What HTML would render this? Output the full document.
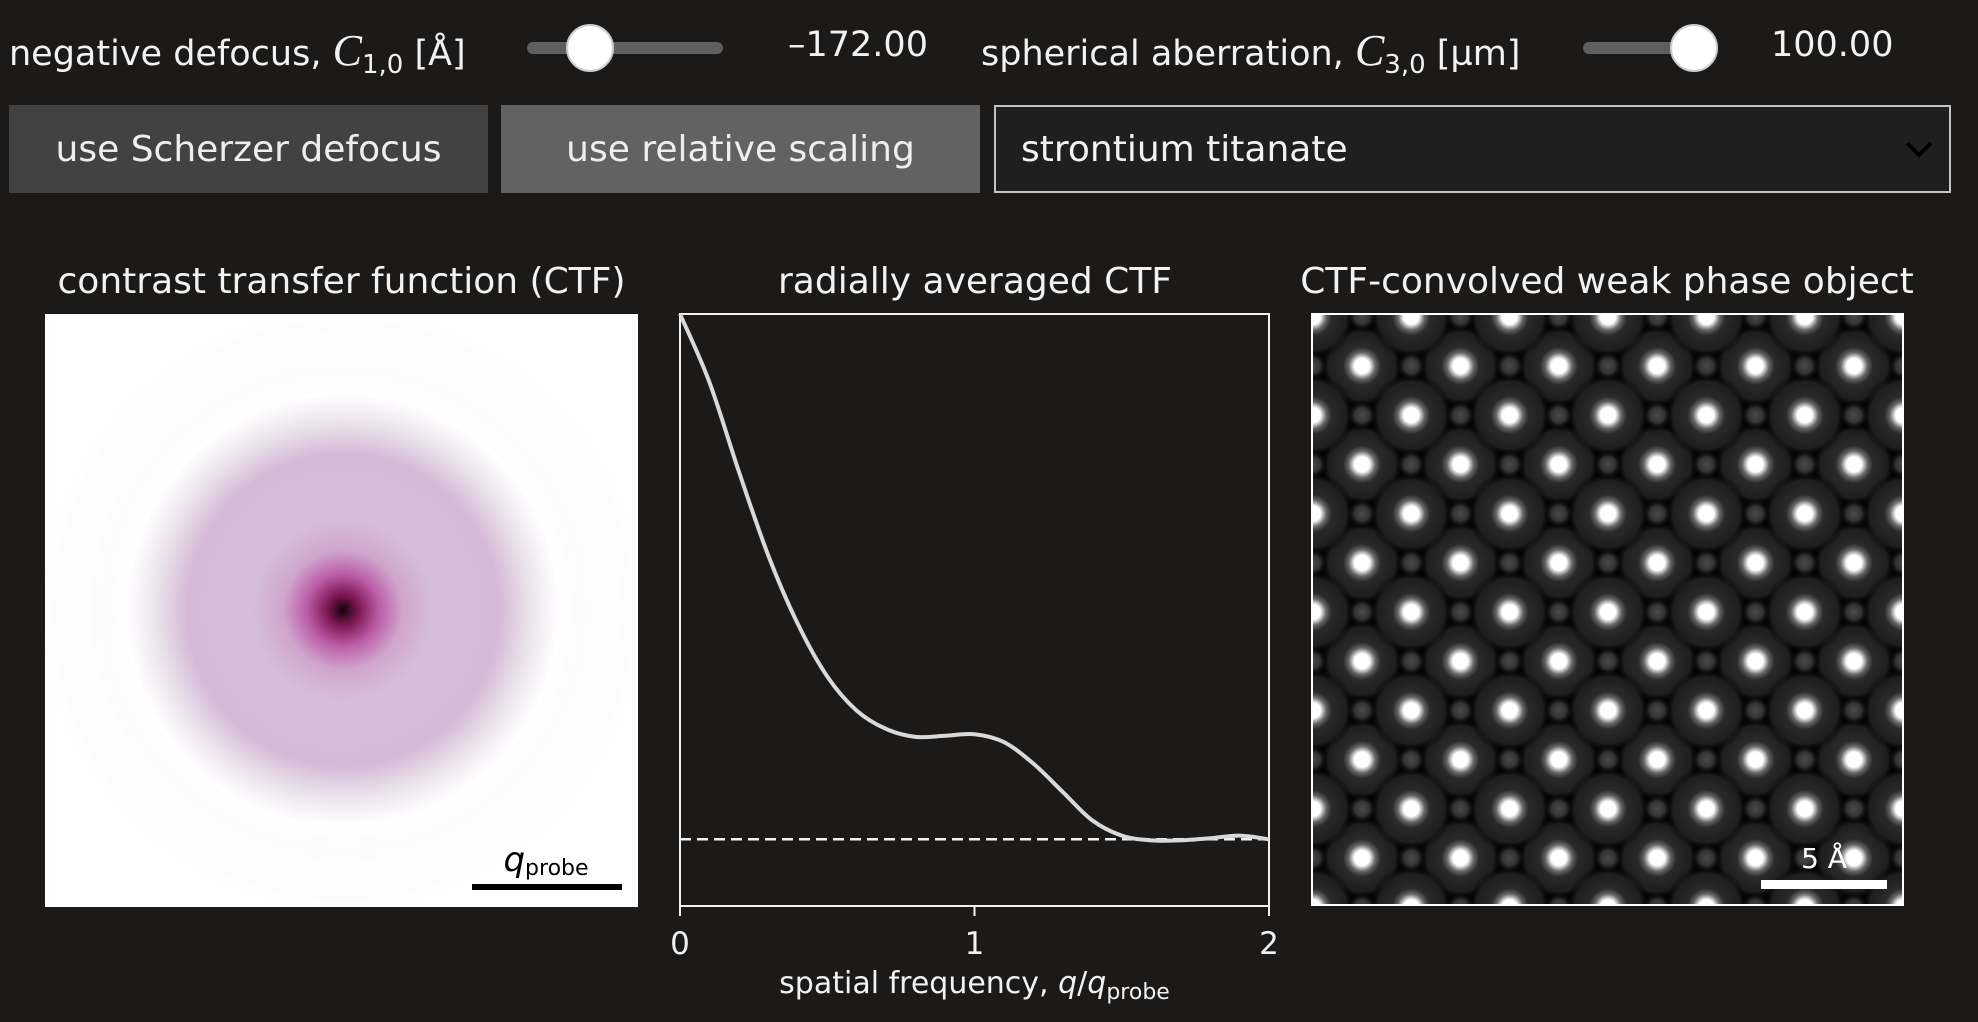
<!DOCTYPE html>
<html><head><meta charset="utf-8"><style>
html,body{margin:0;padding:0;background:#1b1a19;width:1978px;height:1022px;overflow:hidden;font-family:"DejaVu Sans","Liberation Sans",sans-serif;color:#f2f2f2}
.abs{position:absolute}
.lbl{font-size:35px;white-space:nowrap;top:25px}
.track{height:12px;background:#5f5f5f;border-radius:6px;top:42px}
.thumb{width:48px;height:48px;border-radius:50%;background:#fff;border:2px solid #ccc;box-sizing:border-box;top:24px}
.btn{top:105px;height:88px;display:flex;align-items:center;justify-content:center;font-size:36px;color:#eee}
.title{font-family:"DejaVu Sans",sans-serif;font-size:36px;color:#f2f2f2;top:261px;text-align:center;white-space:nowrap}
i.m{font-family:"Liberation Serif",serif;font-style:italic;font-size:44px}
sub{font-size:26px}
</style></head><body>
<div class="abs lbl" style="left:9px">negative defocus, <i class="m">C</i><sub>1,0</sub> [Å]</div>
<div class="abs track" style="left:527px;width:196px"></div>
<div class="abs thumb" style="left:566px"></div>
<div class="abs lbl" style="left:788px">–172.00</div>
<div class="abs lbl" style="left:981px">spherical aberration, <i class="m">C</i><sub>3,0</sub> [µm]</div>
<div class="abs track" style="left:1583px;width:135px"></div>
<div class="abs thumb" style="left:1670px"></div>
<div class="abs lbl" style="left:1771px">100.00</div>

<div class="abs btn" style="left:9px;width:479px;background:#424242">use Scherzer defocus</div>
<div class="abs btn" style="left:501px;width:479px;background:#626262">use relative scaling</div>
<div class="abs" style="left:994px;top:105px;width:957px;height:88px;box-sizing:border-box;border:2px solid #c4c4c4;background:#1f1f1f;font-size:36px;display:flex;align-items:center;padding-left:25px">strontium titanate
<svg class="abs" style="left:908px;top:32px" width="30" height="20"><polyline points="3,4 15,16 27,4" fill="none" stroke="#000" stroke-width="4"/></svg></div>

<div class="abs title" style="left:45px;width:593px">contrast transfer function (CTF)</div>
<div class="abs title" style="left:680px;width:590px">radially averaged CTF</div>
<div class="abs title" style="left:1290px;width:634px">CTF-convolved weak phase object</div>

<svg class="abs" style="left:45px;top:314px" width="593" height="593">
<defs><radialGradient id="rg" cx="298" cy="296" r="300" gradientUnits="userSpaceOnUse">
<stop offset="0" stop-color="#150208"/><stop offset="0.05" stop-color="#7a1650"/><stop offset="0.12" stop-color="#bb5ca8"/><stop offset="0.2" stop-color="#cfa6cd"/><stop offset="0.3" stop-color="#d6bdd8"/><stop offset="0.52" stop-color="#d4bad6"/><stop offset="0.62" stop-color="#ebe1ec"/><stop offset="0.72" stop-color="#ffffff"/><stop offset="0.8" stop-color="#fbfbfb"/><stop offset="0.88" stop-color="#ffffff"/><stop offset="0.95" stop-color="#fcfcfc"/><stop offset="1" stop-color="#ffffff"/></radialGradient></defs>
<rect width="593" height="593" fill="url(#rg)"/>
<rect x="427" y="570" width="150" height="6" fill="#000"/>
<text x="501" y="557" text-anchor="middle" font-family="DejaVu Sans" font-size="30" fill="#000"><tspan font-style="italic" font-size="34">q</tspan><tspan font-size="22" dy="4">probe</tspan></text>
</svg>

<svg id="chart" class="abs" style="left:0;top:0" width="1978" height="1022"></svg>

<svg class="abs" style="left:1311px;top:313px" width="593" height="593">
<defs>
<radialGradient id="big"><stop offset="0" stop-color="#fff"/><stop offset="0.18" stop-color="#fff"/><stop offset="0.32" stop-color="#666"/><stop offset="0.45" stop-color="#2a2a2a"/><stop offset="0.8" stop-color="#1e1e1e"/><stop offset="1" stop-color="#000" stop-opacity="0"/></radialGradient>
<radialGradient id="sm"><stop offset="0" stop-color="#4a4a4a"/><stop offset="0.5" stop-color="#333"/><stop offset="1" stop-color="#000" stop-opacity="0"/></radialGradient>
<pattern id="lat" x="51" y="53" width="98.4" height="98.4" patternUnits="userSpaceOnUse">
<rect width="98.4" height="98.4" fill="#000"/>
<circle cx="0" cy="0" r="42" fill="url(#big)"/><circle cx="98.4" cy="0" r="42" fill="url(#big)"/><circle cx="0" cy="98.4" r="42" fill="url(#big)"/><circle cx="98.4" cy="98.4" r="42" fill="url(#big)"/><circle cx="49.2" cy="49.2" r="42" fill="url(#big)"/>
<circle cx="49.2" cy="0" r="15" fill="url(#sm)"/><circle cx="0" cy="49.2" r="15" fill="url(#sm)"/><circle cx="98.4" cy="49.2" r="15" fill="url(#sm)"/><circle cx="49.2" cy="98.4" r="15" fill="url(#sm)"/>
</pattern></defs>
<rect x="1" y="1" width="591" height="591" fill="url(#lat)" stroke="#fff" stroke-width="2"/>
<rect x="450" y="567" width="126" height="9" fill="#fff"/>
<text x="513" y="555" text-anchor="middle" font-family="DejaVu Sans" font-size="28" fill="#fff">5 Å</text>
</svg>

<script>
const qValues=[0,0.1,0.2,0.3,0.4,0.5,0.6,0.7,0.8,0.9,1.0,1.1,1.2,1.3,1.4,1.5,1.6,1.7,1.8,1.9,2.0];
const ctfValues=[1.0,0.87,0.7,0.54,0.41,0.31,0.245,0.21,0.195,0.197,0.2,0.185,0.144,0.09,0.036,0.007,-0.002,-0.002,0.002,0.007,0.0];
const xTicks=[0,1,2];
const xTickLabels=["0","1","2"];
const NS="http://www.w3.org/2000/svg";
const svg=document.getElementById('chart');
const L=680,R=1269,T=314,B=906,xMin=0,xMax=2,yMin=-0.127,yMax=1.0;
const X=v=>L+(v-xMin)/(xMax-xMin)*(R-L);
const Y=v=>B-(v-yMin)/(yMax-yMin)*(B-T);
function mk(tag,attrs){const e=document.createElementNS(NS,tag);for(const k in attrs)e.setAttribute(k,attrs[k]);svg.appendChild(e);return e;}
const frame=mk('rect',{x:L,y:T,width:R-L,height:B-T,fill:'none',stroke:'#f2f2f2','stroke-width':2});


const zl=mk('line',{x1:L,x2:R,y1:Y(0),y2:Y(0),stroke:'#f2f2f2','stroke-width':2.5,'stroke-dasharray':'11 6'});


const pts=qValues.map((q,i)=>[X(q),Y(ctfValues[i])]);
let d='M'+pts[0][0]+','+pts[0][1];
for(let i=0;i<pts.length-1;i++){const p0=pts[Math.max(i-1,0)],p1=pts[i],p2=pts[i+1],p3=pts[Math.min(i+2,pts.length-1)];
d+=' C'+(p1[0]+(p2[0]-p0[0])/6)+','+(p1[1]+(p2[1]-p0[1])/6)+' '+(p2[0]-(p3[0]-p1[0])/6)+','+(p2[1]-(p3[1]-p1[1])/6)+' '+p2[0]+','+p2[1];}
const line=mk('path',{d:d,fill:'none',stroke:'#d9d9d9','stroke-width':4});


xTicks.forEach((t,i)=>{
const tk=mk('line',{x1:X(t),x2:X(t),y1:B,y2:B+10,stroke:'#f2f2f2','stroke-width':2});


const tl=mk('text',{x:X(t),y:B+48,'text-anchor':'middle','font-family':'DejaVu Sans','font-size':31,fill:'#f2f2f2'});
tl.textContent=xTickLabels[i];


});
const xt=mk('text',{x:(L+R)/2,y:993,'text-anchor':'middle','font-family':'DejaVu Sans','font-size':30,fill:'#f2f2f2'});
xt.innerHTML='spatial frequency, <tspan font-style="italic">q</tspan>/<tspan font-style="italic">q</tspan><tspan font-size="22" dy="6">probe</tspan>';


</script>
</body></html>
